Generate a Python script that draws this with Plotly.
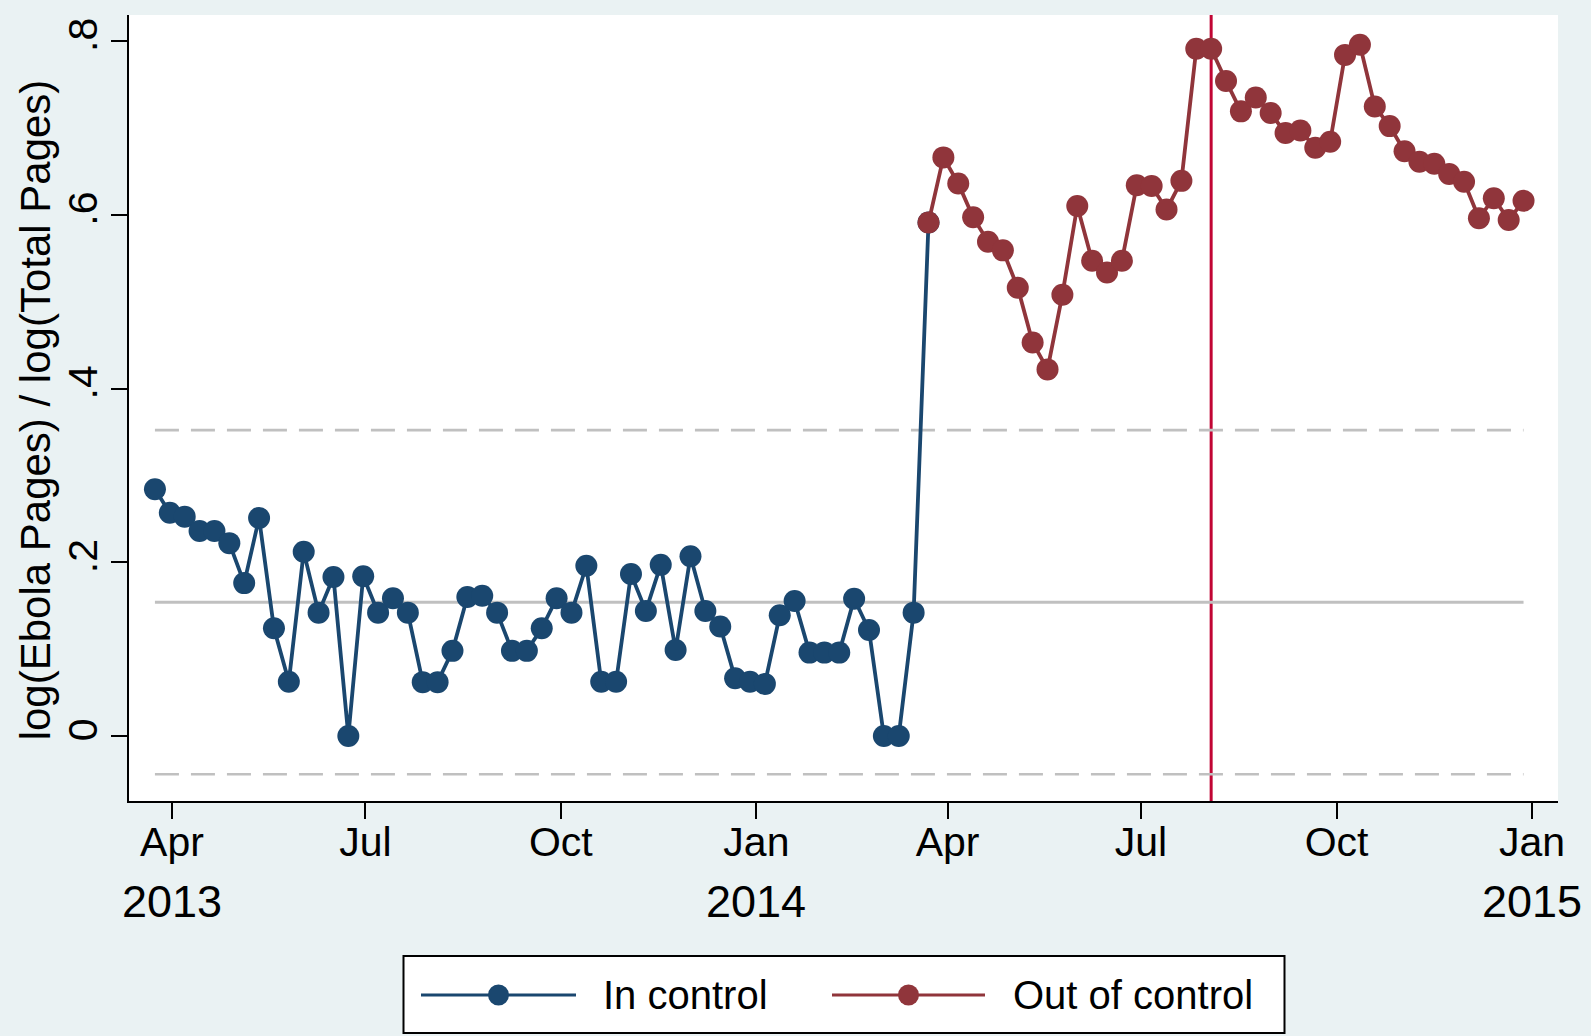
import pandas as pd
import plotly.graph_objects as go

# Weekly ratio log(Ebola pages) / log(total pages), weeks starting Sunday 24 Mar 2013
week_start = "2013-03-24"
in_control = [
    0.284, 0.257, 0.2525, 0.236, 0.236, 0.222, 0.176, 0.251, 0.124, 0.0625,
    0.212, 0.142, 0.183, 0.000, 0.184, 0.142, 0.1585, 0.142, 0.062, 0.062,
    0.098, 0.160, 0.1615, 0.142, 0.098, 0.098, 0.124, 0.1585, 0.142, 0.196,
    0.0625, 0.0625, 0.1865, 0.144, 0.197, 0.099, 0.207, 0.144, 0.126, 0.0664,
    0.0625, 0.060, 0.139, 0.1554, 0.096, 0.096, 0.096, 0.158, 0.122, 0.000,
    0.000, 0.142,
]
out_of_control = [
    0.591, 0.666, 0.636, 0.597, 0.569, 0.559, 0.516, 0.453, 0.422, 0.508,
    0.610, 0.547, 0.5335, 0.547, 0.634, 0.633, 0.606, 0.639, 0.791, 0.791,
    0.754, 0.719, 0.735, 0.717, 0.694, 0.697, 0.677, 0.684, 0.784, 0.7956,
    0.7246, 0.702, 0.673, 0.661, 0.6586, 0.647, 0.638, 0.596, 0.619, 0.594,
    0.616,
]
center_line = 0.154
upper_limit = 0.352
lower_limit = -0.044
event_date = "2014-08-03"

month_ticks = ["2013-04-01", "2013-07-01", "2013-10-01", "2014-01-01",
               "2014-04-01", "2014-07-01", "2014-10-01", "2015-01-01"]
month_labels = ["Apr", "Jul", "Oct", "Jan", "Apr", "Jul", "Oct", "Jan"]
year_ticks = ["2013-04-01", "2014-01-01", "2015-01-01"]
year_labels = ["2013", "2014", "2015"]
y_ticks = [0, 0.2, 0.4, 0.6, 0.8]
y_labels = ["0", ".2", ".4", ".6", ".8"]

values = in_control + out_of_control
dates = pd.date_range(week_start, periods=len(values), freq="7D")
n_in = len(in_control)

NAVY = "#1a476f"
MAROON = "#90353b"
CRANBERRY = "#c10534"
GREY = "#c0c0c0"
BG = "#eaf2f3"
FONT = "Liberation Sans, Arial, Helvetica, sans-serif"

W, H = 1591, 1036
ML, MR, MT, MB = 129, 33, 15, 235
PW, PH = W - ML - MR, H - MT - MB


def px(x):
    return (x - ML) / PW


def py(y):
    return (H - MB - y) / PH


fig = go.Figure()

# In-control series (its line runs up to the first out-of-control week)
fig.add_trace(go.Scatter(
    x=dates[:n_in + 1], y=values[:n_in + 1], mode="lines+markers",
    line=dict(color=NAVY, width=3.8),
    marker=dict(color=NAVY, size=22, line=dict(width=0)),
    name="In control", showlegend=False,
))
fig.add_trace(go.Scatter(
    x=dates[n_in:], y=values[n_in:], mode="lines+markers",
    line=dict(color=MAROON, width=3.8),
    marker=dict(color=MAROON, size=22, line=dict(width=0)),
    name="Out of control", showlegend=False,
))

shapes = []
# control limits and centre line across the observed weeks
for level, dash in [(upper_limit, "24px,12px"), (lower_limit, "24px,12px"),
                    (center_line, "solid")]:
    shapes.append(dict(
        type="line", xref="x", yref="y", x0=dates[0], x1=dates[-1],
        y0=level, y1=level, layer="below",
        line=dict(color=GREY, width=3 if dash == "solid" else 2.7, dash=dash),
    ))
shapes.append(dict(
    type="line", xref="x", yref="paper", x0=event_date, x1=event_date,
    y0=0, y1=1, layer="below", line=dict(color=CRANBERRY, width=3),
))

# legend box drawn by hand so the key lines are full width
shapes.append(dict(
    type="rect", xref="paper", yref="paper",
    x0=px(403.5), x1=px(1284.5), y0=py(1033), y1=py(956),
    fillcolor="white", line=dict(color="black", width=2), layer="above",
))
legend_items = [("In control", NAVY, 421, 576, 602), ("Out of control", MAROON, 832, 985, 1012)]
annotations = []
for label, color, lx0, lx1, tx in legend_items:
    shapes.append(dict(
        type="line", xref="paper", yref="paper", x0=px(lx0), x1=px(lx1),
        y0=py(995), y1=py(995), line=dict(color=color, width=3), layer="above",
    ))
    cx = (lx0 + lx1) / 2
    shapes.append(dict(
        type="circle", xref="paper", yref="paper",
        x0=px(cx - 10.5), x1=px(cx + 10.5), y0=py(995 + 10.5), y1=py(995 - 10.5),
        fillcolor=color, line=dict(width=0), layer="above",
    ))
    annotations.append(dict(
        text=label, xref="paper", yref="paper", x=px(tx), y=py(995),
        xanchor="left", yanchor="middle", showarrow=False, borderpad=0,
        font=dict(family=FONT, size=40, color="black"),
    ))

# year line under the month ticks
for d, lab in zip(year_ticks, year_labels):
    annotations.append(dict(
        text=lab, xref="x", yref="paper", x=d, y=py(902),
        xanchor="center", yanchor="middle", showarrow=False, borderpad=0,
        font=dict(family=FONT, size=45, color="black"),
    ))

annotations.append(dict(
    text="log(Ebola Pages) / log(Total Pages)", textangle=-90,
    xref="paper", yref="paper", x=px(35), y=0.497,
    xanchor="center", yanchor="middle", showarrow=False, borderpad=0,
    font=dict(family=FONT, size=42, color="black"),
))

fig.update_layout(
    width=W, height=H,
    margin=dict(l=ML, r=MR, t=MT, b=MB, autoexpand=False),
    paper_bgcolor=BG, plot_bgcolor="white",
    shapes=shapes, annotations=annotations,
    showlegend=False,
    font=dict(family=FONT, color="black"),
)
fig.update_xaxes(
    type="date", range=["2013-03-11 19:00", "2015-01-13 05:00"],
    tickvals=month_ticks, ticktext=month_labels,
    ticks="outside", ticklen=16, tickwidth=2, tickcolor="black",
    showline=True, linecolor="black", linewidth=2,
    showgrid=False, zeroline=False, ticklabelstandoff=-12,
    tickfont=dict(family=FONT, size=41, color="black"),
)
fig.update_yaxes(
    range=[-0.0748, 0.8299],
    tickvals=y_ticks, ticktext=y_labels, tickangle=-90,
    ticks="outside", ticklen=16, tickwidth=2, tickcolor="black",
    showline=True, linecolor="black", linewidth=2,
    showgrid=False, zeroline=False, ticklabelstandoff=-2,
    tickfont=dict(family=FONT, size=41, color="black"),
)

fig.write_html("out.html")
